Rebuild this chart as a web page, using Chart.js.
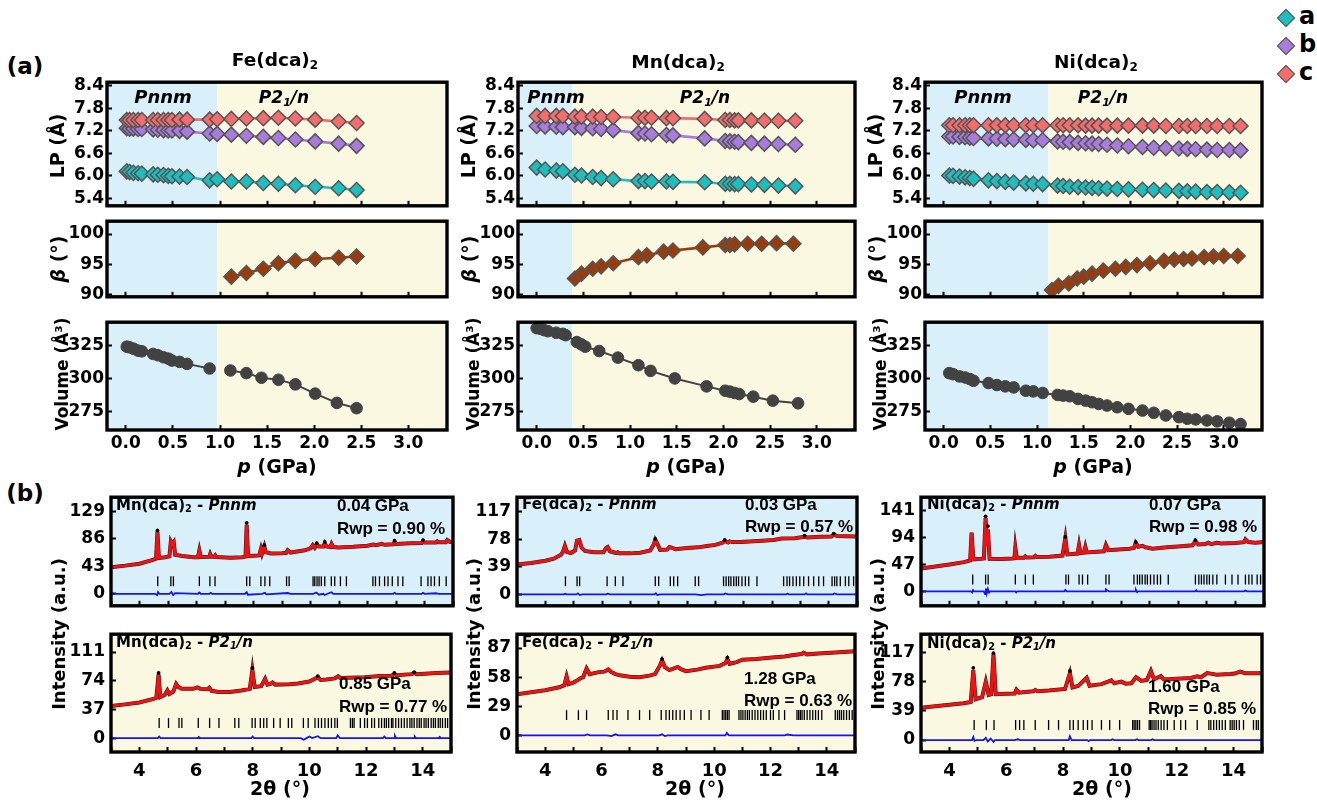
<!DOCTYPE html>
<html><head><meta charset="utf-8">
<script src="https://cdn.jsdelivr.net/npm/chart.js@4.4.1/dist/chart.umd.min.js"></script>
<style>
html,body{margin:0;padding:0;background:#fff;}
#root{position:relative;width:1317px;height:800px;overflow:hidden;font-family:"DejaVu Sans",sans-serif;font-weight:bold;color:#000;}
canvas{position:absolute;}
.t{position:absolute;white-space:nowrap;line-height:1;z-index:5;}
.c{transform:translate(-50%,-50%);}
.l{transform:translate(0,-50%);}
.v{transform:translate(-50%,-50%) rotate(-90deg);}
sub{font-size:0.65em;vertical-align:-0.3em;line-height:0;}
.lib{font-family:"Liberation Sans",Arial,sans-serif;}
.dia{position:absolute;width:11px;height:11px;border:1.5px solid #555;transform:translate(-50%,-50%) rotate(45deg);z-index:5;}
</style></head><body><div id="root"></div>
<script>
// ---------------- (a) lattice parameters ----------------
const pLPFe = [0.01,0.04,0.08,0.13,0.17,0.29,0.34,0.40,0.45,0.49,0.57,0.65,0.89,0.97,1.12,1.28,1.46,1.62,1.80,2.01,2.26,2.45];
const aFe = [6.12,6.10,6.08,6.07,6.06,6.04,6.03,6.02,6.00,5.99,5.98,5.97,5.88,5.91,5.85,5.85,5.81,5.79,5.75,5.71,5.67,5.62];
const bFe = [7.27,7.26,7.26,7.25,7.25,7.24,7.23,7.22,7.21,7.21,7.20,7.18,7.13,7.12,7.10,7.07,7.04,7.01,6.97,6.92,6.86,6.80];
const cFe = [7.49,7.49,7.49,7.49,7.49,7.49,7.49,7.49,7.49,7.49,7.50,7.50,7.50,7.51,7.52,7.53,7.54,7.55,7.53,7.50,7.45,7.41];

const pLPMn = [0.00,0.09,0.21,0.28,0.41,0.48,0.60,0.69,0.82,1.09,1.16,1.23,1.39,1.46,1.80,2.02,2.07,2.12,2.16,2.30,2.44,2.59,2.77];
const aMn = [6.22,6.17,6.14,6.12,6.03,6.01,5.97,5.94,5.91,5.86,5.86,5.85,5.85,5.84,5.83,5.79,5.79,5.78,5.78,5.77,5.76,5.74,5.72];
const bMn = [7.33,7.32,7.31,7.30,7.30,7.28,7.27,7.25,7.22,7.14,7.13,7.11,7.09,7.08,7.00,6.93,6.92,6.91,6.90,6.88,6.86,6.85,6.83];
const cMn = [7.60,7.60,7.60,7.60,7.58,7.58,7.58,7.57,7.57,7.55,7.55,7.55,7.54,7.54,7.52,7.49,7.49,7.48,7.48,7.48,7.47,7.47,7.47];

const pNi = [0.06,0.10,0.17,0.23,0.28,0.32,0.48,0.57,0.66,0.75,0.88,0.96,1.06,1.22,1.28,1.35,1.44,1.52,1.59,1.66,1.75,1.86,1.98,2.13,2.25,2.38,2.52,2.61,2.70,2.82,2.93,3.06,3.18];
const aNi = [6.01,6.00,5.98,5.96,5.94,5.92,5.88,5.86,5.84,5.82,5.80,5.79,5.78,5.74,5.73,5.71,5.70,5.69,5.68,5.67,5.66,5.65,5.64,5.63,5.62,5.61,5.60,5.59,5.58,5.57,5.57,5.56,5.55];
const bNi = [7.05,7.05,7.04,7.03,7.02,7.01,7.00,6.99,6.98,6.97,6.96,6.95,6.95,6.92,6.91,6.90,6.88,6.87,6.86,6.85,6.83,6.81,6.79,6.77,6.75,6.74,6.73,6.72,6.71,6.70,6.69,6.69,6.68];
const cNi = [7.35,7.35,7.35,7.35,7.35,7.35,7.35,7.35,7.35,7.35,7.35,7.35,7.35,7.35,7.35,7.35,7.35,7.34,7.34,7.34,7.34,7.34,7.34,7.34,7.34,7.33,7.33,7.33,7.33,7.33,7.33,7.33,7.33];

// beta angle (monoclinic phase)
const pBetaFe = [1.12,1.28,1.46,1.62,1.80,2.01,2.26,2.45];
const betaFe = [93.0,93.6,94.3,95.2,95.6,95.9,96.1,96.3];
const pBetaMn = [0.41,0.48,0.60,0.69,0.82,1.09,1.18,1.36,1.46,1.78,2.02,2.07,2.12,2.26,2.41,2.57,2.75];
const betaMn = [92.7,93.5,94.3,94.7,95.2,96.2,96.5,97.1,97.3,97.8,98.2,98.2,98.3,98.4,98.4,98.5,98.4];
const pBetaNi = [1.16,1.23,1.34,1.43,1.50,1.59,1.71,1.84,1.95,2.07,2.21,2.36,2.47,2.57,2.66,2.79,2.89,3.00,3.15];
const betaNi = [90.8,91.5,91.9,92.7,93.0,93.5,94.0,94.3,94.6,94.9,95.2,95.6,95.8,95.9,96.0,96.2,96.3,96.4,96.4];

// volume
const pVolFe = [0.01,0.04,0.08,0.13,0.17,0.29,0.34,0.40,0.45,0.49,0.57,0.65,0.89,1.11,1.28,1.44,1.62,1.80,2.01,2.24,2.45];
const volFe = [324.0,323.5,322.5,321.0,320.5,318.5,317.5,316.0,315.0,313.5,312.5,311.0,307.5,306.0,304.0,300.5,299.0,295.5,288.5,281.5,277.5];
const pVolMn = [0.00,0.04,0.08,0.12,0.21,0.28,0.31,0.43,0.48,0.52,0.67,0.87,1.09,1.22,1.48,1.82,2.02,2.07,2.12,2.17,2.32,2.53,2.80];
const volMn = [338.0,337.5,336.5,335.7,334.5,333.7,332.7,327.5,325.7,324.0,320.7,315.7,310.0,305.7,300.0,294.0,290.7,290.0,289.0,288.2,286.2,283.2,281.2];
const volNi = [304.0,303.2,301.5,300.7,299.5,298.2,296.5,295.0,294.0,293.2,290.7,290.2,289.0,287.5,287.0,286.5,284.5,283.2,282.0,280.7,279.5,278.2,277.0,275.7,274.0,272.0,270.7,269.5,269.0,268.2,267.5,266.5,265.5];

// Pnnm -> P21/n transition pressures (GPa)
const transitionFe = 0.97, transitionMn = 0.38, transitionNi = 1.12;

// tick labels
const pTicks = [0.0,0.5,1.0,1.5,2.0,2.5,3.0];
const lpTicks = [5.4,6.0,6.6,7.2,7.8,8.4];
const betaTicks = [90,95,100];
const volTicks = [275,300,325];
const thetaTicks = [3,4,5,6,7,8,9,10,11,12,13,14,15];
const ticksMnPnnm = [0,43,86,129], ticksFePnnm = [0,39,78,117], ticksNiPnnm = [0,47,94,141];
const ticksMnP21 = [0,37,74,111], ticksFeP21 = [0,29,58,87], ticksNiP21 = [0,39,78,117];

// ---------------- (b) XRD refinements ----------------
const thMnPnnm = [3.0,3.5,4.0,4.5,4.58,4.63,4.68,4.9,5.05,5.1,5.15,5.2,5.25,5.5,5.9,6.05,6.1,6.15,6.45,6.48,6.52,6.63,6.66,6.7,7.2,7.6,7.72,7.76,7.81,8.2,8.26,8.3,8.38,8.43,8.6,9.0,9.15,9.2,9.26,9.3,9.8,10.0,10.08,10.15,10.22,10.3,10.45,10.5,10.56,10.7,10.74,10.8,11.0,11.5,12.0,12.2,12.3,12.5,12.6,12.9,12.95,13.0,13.5,13.9,13.95,14.0,14.4,14.45,14.5,14.75,14.8,14.9,15.0];
const calcMnPnnm = [41.5,44,47,53.5,55,97,56,57,58.5,82,78,81,61,59,57,57,68,57.5,58,62,58,58,60,57.5,56.5,57,58,108,59,60,70,63,74,65,63,63.5,64,68,66,64.5,68,71,76,72,77,74,74,79,74,73,78,73,72.5,73.5,75,77,76,78,76.5,77.5,81,78,79,79.5,82,80,80,82,80.5,80.5,84,81,81];
const topThMnPnnm = [4.63,7.76,8.38,10.22,10.5,12.95,13.95], topMnPnnm = [99,111,76,79,81,83,84];
const diffThMnPnnm = [3,4.55,4.62,4.65,4.7,5.05,5.12,5.18,5.25,6.05,6.1,6.15,6.45,6.5,6.55,7.7,7.76,7.8,8.3,8.4,8.45,9.2,9.3,10.1,10.2,10.3,10.45,10.5,10.6,10.73,10.8,12.9,12.95,13.0,13.9,13.95,14.0,14.4,14.5,15];
const diffMnPnnm = [0,0,-2,2.5,0,0,3,-2,1,0,2,0,0,1.5,0,0,2.5,-1.5,0,1.5,-1,1.2,0,0,2,-1.5,0,-2,0,2.5,0,0,1.5,0,0,1.5,0,0.8,0,0];
const braggMnPnnm = [4.64,5.10,5.19,6.10,6.47,6.65,7.76,7.87,8.26,8.40,8.57,9.16,9.25,10.09,10.15,10.23,10.30,10.38,10.50,10.73,10.85,11.05,11.26,12.19,12.28,12.42,12.60,12.72,12.87,13.07,13.24,13.88,14.12,14.23,14.35,14.52,14.76];

const thFePnnm = [3.0,3.5,4.0,4.3,4.55,4.62,4.69,4.76,4.9,5.05,5.12,5.2,5.28,5.4,5.7,6.05,6.15,6.2,6.28,6.5,6.55,6.6,7.0,7.35,7.7,7.82,7.88,7.95,8.05,8.3,8.38,8.45,8.6,9.0,9.4,9.7,10.0,10.25,10.33,10.45,10.5,10.6,10.9,11.5,12.06,12.35,12.8,13.15,13.25,13.7,14.1,14.18,14.3,15.0];
const calcFePnnm = [42.3,44.5,47.5,50.5,56,60,68.5,60,58.5,62,76,77,66,61.5,59.5,59.5,66,67,61,58.5,59.5,58,58,59,62,70,77,72,63,63.5,67,66,64,65.5,66.5,68.5,70,73,75.5,73.5,75,74,74,75.5,77,79,79.5,81.5,80.5,81.5,82,84.5,82.5,82];
const topThFePnnm = [7.88,10.33,13.15,14.18], topFePnnm = [78.5,77,83,86];
const diffThFePnnm = [3,4.65,4.7,4.75,5.1,5.15,5.22,5.3,6.15,6.2,6.3,7.85,7.9,7.95,8.05,9.3,9.5,9.7,10.3,10.35,10.45,12.5,12.55,12.6,13.15,13.2,13.25,14.15,14.2,14.3,15];
const diffFePnnm = [0,0,1,0,0,1.5,-1,0,0,1,0,0,1.5,-1,0,0,-1,0,0,1.2,0,0,0.8,0,0,1.5,0,0,1.2,0,0];
const braggFePnnm = [4.71,5.12,5.21,6.18,6.47,6.74,7.88,8.00,8.41,8.53,8.67,9.29,9.41,10.29,10.38,10.47,10.55,10.65,10.74,10.82,10.94,11.06,11.18,11.47,12.41,12.53,12.62,12.74,12.86,12.98,13.12,13.29,13.47,13.65,13.82,14.12,14.21,14.29,14.41,14.59,14.71,14.88];

const thNiPnnm = [3.0,3.5,4.0,4.5,4.72,4.77,4.83,5.1,5.2,5.26,5.3,5.34,5.4,5.8,6.2,6.27,6.3,6.35,6.6,6.65,6.7,6.95,7.0,7.05,7.5,7.95,8.05,8.12,8.48,8.53,8.58,8.7,8.75,8.8,9.4,9.47,9.55,10.3,10.45,10.51,10.6,10.75,10.85,11.1,11.6,12.0,12.5,12.6,12.7,12.95,13.05,13.15,13.35,13.5,14.0,14.3,14.35,14.45,14.7,15.0];
const calcNiPnnm = [40,43.5,47,51,54,102.5,56,57,57.5,128,80,108,57,56.5,57.5,58,77,58.5,58.5,61,59,59.5,62,60,60.5,62.5,93,64.5,66,81,67,67.5,78,68,70,81,72,74.5,76,84.5,78,79.5,77,74.5,77,78.5,80.5,88,82,82.5,85,82.5,85,83.5,84.5,86,91,86,85,86];
const topThNiPnnm = [5.26,5.34,8.05,10.51,12.6], topNiPnnm = [131,114,95,86,89.5];
const diffThNiPnnm = [3,4.75,4.79,4.82,4.86,5.2,5.24,5.27,5.3,5.34,5.38,5.42,6.3,6.33,6.36,8.02,8.05,8.1,9.44,9.47,9.52,9.58,10.5,10.52,10.56,10.6,12.6,12.63,12.66,14.3,14.35,14.4,15];
const diffNiPnnm = [0,0,-2,2,0,0,-5,5,-4,4,-2,0,0,-2,0,0,2.5,0,0,3.5,1.5,0,0,2.5,-1.5,0,0,2,0,0,1.5,0,0];
const braggNiPnnm = [4.81,5.26,5.35,6.30,6.65,6.93,8.07,8.16,8.53,8.65,8.83,9.47,9.58,10.45,10.57,10.65,10.74,10.84,10.92,11.03,11.15,11.27,11.38,11.65,12.60,12.72,12.81,12.90,13.00,13.09,13.21,13.35,13.65,13.88,14.09,14.35,14.47,14.58,14.76,14.88];

const thMnP21 = [3.0,3.5,4.0,4.5,4.6,4.68,4.74,4.9,4.99,5.06,5.2,5.3,5.38,5.5,5.9,6.05,6.15,6.4,6.47,6.55,6.8,7.2,7.6,7.9,7.99,8.07,8.3,8.44,8.52,8.63,8.7,8.8,9.3,9.6,10.0,10.3,10.4,10.6,10.9,11.02,11.1,11.95,12.5,12.9,13.0,13.1,13.6,13.7,13.8,14.5,15.0];
const calcMnP21 = [41.3,43.5,46,50.5,52,82,53,56,61.6,57,60,70,66,63.5,63.5,65.5,63.5,63,65,61,59.5,59.5,61.5,63.5,88,66,67,76.5,69,70,71.7,69,69.5,70.5,72.9,78.6,75,75.7,77,79.8,77.5,78.6,80,80.5,82.6,81,82.5,83.8,82.5,84,84.6];
const topThMnP21 = [4.68,7.99,10.3,13.0,13.7], topMnP21 = [84,90.5,80,84,85];
const diffThMnP21 = [3,4.65,4.7,4.75,6.05,6.1,6.15,7.95,8.0,8.05,9.7,9.8,9.9,10.0,10.1,10.3,10.4,10.95,11.0,11.08,12.6,12.65,12.7,13.0,13.02,13.06,13.7,13.72,13.76,14.55,14.6,14.65,15];
const diffMnP21 = [0,0,2,0,0,1.5,0,0,2,0,0,-2,0,2,0,2.5,0,0,3.5,0,0,2,0,0,3,0,0,2,0,0,1.5,0,0];
const braggMnP21 = [4.70,5.03,5.40,5.50,6.08,6.48,6.81,7.37,7.51,7.98,8.09,8.27,8.39,8.50,8.74,8.97,9.26,9.38,9.79,9.96,10.20,10.32,10.43,10.55,10.67,10.78,10.90,10.99,11.45,11.52,11.58,11.80,11.95,12.05,12.20,12.30,12.45,12.55,12.65,12.72,12.80,12.90,12.95,13.05,13.15,13.25,13.35,13.45,13.55,13.62,13.70,13.80,13.88,13.95,14.05,14.12,14.20,14.30,14.38,14.45,14.55,14.62,14.70,14.80,14.88];

const thFeP21 = [3.0,3.5,4.0,4.5,4.68,4.76,4.83,5.0,5.15,5.24,5.35,5.47,5.58,5.9,6.1,6.24,6.35,6.5,6.65,7.0,7.35,7.7,7.9,8.08,8.15,8.25,8.41,8.6,8.71,8.82,9.0,9.4,9.7,10.2,10.4,10.47,10.55,10.8,11.0,11.5,12.06,12.5,12.76,13.1,13.18,13.3,13.7,14.3,15.0];
const calcFeP21 = [41,43,45,47.9,50,58.8,51,52.6,55,56.6,58,66.6,61,63,63.5,65.7,63,61,59.8,58.5,57.9,59.5,61,70,74.5,68,65,67,68.2,66,64,65.5,67.3,69.2,72,76,71.3,73,75.4,76.2,77.6,78.5,79.8,81,82.3,80.7,81.5,82.5,83.9];
const topThFeP21 = [8.15,10.47], topFeP21 = [76,77.5];
const diffThFeP21 = [3,5.4,5.5,5.6,6.2,6.35,6.5,6.6,8.05,8.15,8.25,8.35,10.4,10.45,10.52,12.5,12.6,12.8,15];
const diffFeP21 = [0,0,1,0,0,-0.8,1,0,0,1,-0.8,0,0,2.5,0,0,0.8,0,0];
const braggFeP21 = [4.76,5.18,5.47,6.24,6.41,6.55,6.94,7.35,7.71,8.12,8.29,8.41,8.53,8.65,8.79,8.94,9.18,9.53,9.82,10.29,10.35,10.41,10.47,10.53,10.88,10.95,11.02,11.10,11.18,11.25,11.35,11.45,11.55,11.65,11.75,11.85,12.00,12.10,12.30,12.50,12.94,13.00,13.06,13.12,13.20,13.30,13.40,13.50,13.60,13.70,13.82,14.30,14.38,14.45,14.52,14.60,14.70,14.80,14.90];

const thNiP21 = [3.0,3.5,4.0,4.5,4.75,4.84,4.92,5.15,5.28,5.38,5.47,5.55,5.63,6.0,6.3,6.36,6.45,6.67,6.95,7.02,7.1,7.5,8.07,8.24,8.33,8.53,8.83,8.93,9.35,9.7,9.8,10.05,10.2,10.4,10.57,10.75,10.95,11.09,11.2,11.44,11.55,12.0,12.5,12.72,12.85,13.07,13.25,13.4,13.88,14.05,14.23,14.4,15.0];
const calcNiP21 = [43,45,47,49,50.5,93,54.3,57,77.7,60,61,114,61,61.5,62,66.9,63,64,65,66.5,65,66,68,89,70,72,82.8,72.3,74.4,79.4,75.5,77.7,75,75.5,83.6,78.6,80,92,80.7,84.9,80.7,81.5,82.5,84.9,83.5,89,88,87,87.8,88.5,91.1,89,89];
const topThNiP21 = [4.84,5.55,8.24], topNiP21 = [96,115.5,92];
const diffThNiP21 = [3,4.8,4.84,4.88,4.95,5.2,5.28,5.35,5.45,5.55,5.6,6.3,6.4,6.5,8.2,8.24,8.3,8.85,8.9,8.95,9.7,9.75,9.8,10.55,10.6,10.65,11.1,11.15,11.2,15];
const diffNiP21 = [0,0,4,-1,0,0,3,-2,2,-2.5,0,0,1,0,0,5,0,0,-1.5,0,0,1,0,0,1,0,0,1,0,0];
const braggNiP21 = [4.87,5.30,5.57,6.33,6.47,6.62,7.02,7.49,7.84,8.24,8.36,8.53,8.71,8.86,9.02,9.35,9.64,9.99,10.45,10.50,10.56,10.62,10.69,11.03,11.08,11.13,11.20,11.27,11.35,11.45,11.55,11.67,11.91,12.14,12.31,12.72,13.13,13.20,13.30,13.40,13.50,13.60,13.71,13.88,13.95,14.02,14.10,14.20,14.35,14.70,14.80,14.87];

// ---------------- drawing ----------------
const root = document.getElementById('root');
const BLUE_BG = '#D9F0FB', YELLOW_BG = '#FAF8E1';
const TEAL = '#1CBFBD', PURPLE = '#A97BDC', SALMON = '#F46C6C', BROWN = '#9A3B0B', GREY = '#424242';
const TICKFONT = {family:'"DejaVu Sans", sans-serif', weight:'bold', size:17};

Chart.register({
  id:'panel',
  beforeDraw(chart, args, opts){
    const {ctx, chartArea:a, scales:{x}} = chart;
    ctx.save();
    (opts.bands||[]).forEach(b=>{
      const x1 = b.from==null ? a.left : Math.max(a.left, x.getPixelForValue(b.from));
      const x2 = b.to==null ? a.right : Math.min(a.right, x.getPixelForValue(b.to));
      ctx.fillStyle = b.color; ctx.fillRect(x1, a.top, x2-x1, a.bottom-a.top);
    });
    ctx.restore();
  },
  afterDraw(chart){
    const {ctx, chartArea:a} = chart;
    ctx.save(); ctx.lineWidth = 3.4; ctx.strokeStyle = '#000';
    ctx.strokeRect(a.left, a.top, a.right-a.left, a.bottom-a.top); ctx.restore();
  }
});

function xy(xs, ys){ return xs.map((x,i)=>({x:x, y:ys[i]})); }

function makeChart(o){
  const PL=2, PT=14, PR=12, PB = o.xh>0 ? 2 : 14;
  const x0 = o.L - o.yw - PL, y0 = o.T - PT;
  const w = o.R + PR - x0, h = o.B + o.xh + PB - y0;
  const cv = document.createElement('canvas');
  cv.width = w; cv.height = h;
  Object.assign(cv.style, {left:x0+'px', top:y0+'px', width:w+'px', height:h+'px'});
  root.appendChild(cv);
  return new Chart(cv, {
    type:'scatter',
    data:{datasets:o.datasets},
    options:{
      responsive:false, animation:false, devicePixelRatio:1, events:[],
      layout:{padding:{left:PL, top:PT, right:PR, bottom:PB}},
      plugins:{legend:{display:false}, tooltip:{enabled:false}, panel:{bands:o.bands}},
      elements:{line:{tension:0}},
      scales:{
        x:{type:'linear', min:o.xmin, max:o.xmax,
           afterBuildTicks:s=>{ s.ticks = o.xticks.map(v=>({value:v})); },
           afterFit:s=>{ s.height = o.xh; },
           grid:{display:true, drawOnChartArea:false, drawTicks:true, tickLength:-5, tickWidth:2, tickColor:'#000'},
           border:{display:false},
           ticks:{display:o.xh>0, autoSkip:false, maxRotation:0, minRotation:0, padding:(o.xpad||4)+5,
                  color:'#000', font:o.xfont||TICKFONT, callback:o.xfmt}},
        y:{type:'linear', min:o.ymin, max:o.ymax,
           afterBuildTicks:s=>{ s.ticks = o.yticks.map(v=>({value:v})); },
           afterFit:s=>{ s.width = o.yw; },
           grid:{display:true, drawOnChartArea:false, drawTicks:true, tickLength:-5, tickWidth:2, tickColor:'#000'},
           border:{display:false},
           ticks:{autoSkip:false, padding:(o.ypad||4)+5, color:'#000', font:o.yfont||TICKFONT, callback:o.yfmt}}
      }
    }
  });
}

function txt(html, x, y, cls, size, extra){
  const d = document.createElement('div');
  d.className = 't ' + cls; d.innerHTML = html;
  d.style.left = x+'px'; d.style.top = y+'px'; d.style.fontSize = size+'px';
  if (extra) Object.assign(d.style, extra);
  root.appendChild(d);
}

// ---- panel (a) ----
const colsA = [
  {L:107, R:447, tr:transitionFe, pLP:pLPFe, a:aFe, b:bFe, c:cFe, pB:pBetaFe, beta:betaFe, pV:pVolFe, V:volFe, splitV:true},
  {L:518, R:855, tr:transitionMn, pLP:pLPMn, a:aMn, b:bMn, c:cMn, pB:pBetaMn, beta:betaMn, pV:pVolMn, V:volMn, splitV:false},
  {L:925, R:1262, tr:transitionNi, pLP:pNi, a:aNi, b:bNi, c:cNi, pB:pBetaNi, beta:betaNi, pV:pNi, V:volNi, splitV:false}
];
const fmt1 = v => Number(v).toFixed(1);
const fmt0 = v => String(v);
function diamondSet(data, fill, order){
  return {data, order, showLine:true, borderColor:fill, borderWidth:2.6, backgroundColor:fill,
          pointStyle:'rectRot', pointRadius:7.5, pointBorderColor:'#555', pointBorderWidth:1.5};
}
colsA.forEach(col=>{
  const bands = [{from:null, to:col.tr, color:BLUE_BG},{from:col.tr, to:null, color:YELLOW_BG}];
  const common = {L:col.L, R:col.R, yw:52, xmin:-0.2, xmax:3.41, xticks:pTicks, xfmt:fmt1, bands};
  makeChart(Object.assign({}, common, {T:78, B:210, xh:0, ymin:5.2, ymax:8.5, yticks:lpTicks, yfmt:fmt1, ypad:3,
    datasets:[diamondSet(xy(col.pLP,col.a),TEAL,3), diamondSet(xy(col.pLP,col.b),PURPLE,2), diamondSet(xy(col.pLP,col.c),SALMON,1)]}));
  makeChart(Object.assign({}, common, {T:217, B:301, xh:0, ymin:89.7, ymax:102.1, yticks:betaTicks, yfmt:fmt0, ypad:3,
    datasets:[diamondSet(xy(col.pB,col.beta),BROWN,1)]}));
  const vAll = xy(col.pV, col.V);
  const vSets = col.splitV
    ? [vAll.filter(d=>d.x<col.tr), vAll.filter(d=>d.x>col.tr)]
    : [vAll];
  makeChart(Object.assign({}, common, {T:318, B:430, xh:30, xpad:3, ymin:261, ymax:342.5, yticks:volTicks, yfmt:fmt0, ypad:3,
    datasets:vSets.map(d=>({data:d, showLine:true, borderColor:GREY, borderWidth:2, backgroundColor:GREY,
      pointStyle:'circle', pointRadius:5.8, pointBorderColor:GREY, pointBorderWidth:1}))}));
});

// ---- panel (b) ----
const colsB = [
  {L:111, R:453}, {L:517, R:857}, {L:921, R:1264}
];
const xrd = [
  {col:0, row:0, th:thMnPnnm, calc:calcMnPnnm, tth:topThMnPnnm, top:topMnPnnm, dth:diffThMnPnnm, diff:diffMnPnnm, bragg:braggMnPnnm, bY:19.5, ymin:-18.8, ymax:151, yt:ticksMnPnnm, bg:BLUE_BG},
  {col:1, row:0, th:thFePnnm, calc:calcFePnnm, tth:topThFePnnm, top:topFePnnm, dth:diffThFePnnm, diff:diffFePnnm, bragg:braggFePnnm, bY:18.5, ymin:-16.2, ymax:137.5, yt:ticksFePnnm, bg:BLUE_BG},
  {col:2, row:0, th:thNiPnnm, calc:calcNiPnnm, tth:topThNiPnnm, top:topNiPnnm, dth:diffThNiPnnm, diff:diffNiPnnm, bragg:braggNiPnnm, bY:20.5, ymin:-25.3, ymax:164.5, yt:ticksNiPnnm, bg:BLUE_BG},
  {col:0, row:1, th:thMnP21, calc:calcMnP21, tth:topThMnP21, top:topMnP21, dth:diffThMnP21, diff:diffMnP21, bragg:braggMnP21, bY:19.5, ymin:-17.9, ymax:134, yt:ticksMnP21, bg:YELLOW_BG},
  {col:1, row:1, th:thFeP21, calc:calcFeP21, tth:topThFeP21, top:topFeP21, dth:diffThFeP21, diff:diffFeP21, bragg:braggFeP21, bY:20.2, ymin:-16.6, ymax:100.8, yt:ticksFeP21, bg:YELLOW_BG},
  {col:2, row:1, th:thNiP21, calc:calcNiP21, tth:topThNiP21, top:topNiP21, dth:diffThNiP21, diff:diffNiP21, bragg:braggNiP21, bY:20, ymin:-15.9, ymax:140.8, yt:ticksNiP21, bg:YELLOW_BG}
];
const rowsB = [{T:490, B:613}, {T:627, B:752}];
xrd.forEach(p=>{
  const c = colsB[p.col], r = rowsB[p.row];
  makeChart({L:c.L, R:c.R, T:r.T, B:r.B, yw:50, xh:p.row===1?34:0, xpad:9, ypad:6,
    xmin:3, xmax:15, xticks:thetaTicks, xfmt:v=>(v%2===0?String(v):''),
    xfont:{family:'"DejaVu Sans", sans-serif', weight:'bold', size:18},
    ymin:p.ymin, ymax:p.ymax, yticks:p.yt, yfmt:fmt0,
    bands:[{from:null, to:null, color:p.bg}],
    datasets:[
      {order:5, data:p.bragg.map(t=>({x:t, y:p.bY})), showLine:false, pointStyle:'line', pointRotation:90, pointRadius:5,
       pointBorderColor:'#000', pointBorderWidth:1.3, backgroundColor:'#000'},
      {order:4, data:xy(p.dth,p.diff), showLine:true, borderColor:'#1414F0', borderWidth:1.8, pointRadius:0},
      {order:3, data:xy(p.th,p.calc), showLine:true, borderColor:'#222', borderWidth:4.0, pointRadius:0},
      {order:2, data:xy(p.th,p.calc), showLine:true, borderColor:'#F41010', borderWidth:3.0, pointRadius:0},
      {order:1, data:xy(p.tth,p.top), showLine:false, pointStyle:'circle', pointRadius:1.9, backgroundColor:'#000', pointBorderColor:'#000', pointBorderWidth:0}
    ]});
});

// ---- texts ----
txt('(a)', 25, 66, 'c', 23);
txt('(b)', 25, 493, 'c', 23);
txt('Fe(dca)<sub>2</sub>', 275, 60, 'c', 18.5);
txt('Mn(dca)<sub>2</sub>', 678, 62, 'c', 18.5);
txt('Ni(dca)<sub>2</sub>', 1096, 62, 'c', 18.5);
// legend
[['a',TEAL,18],['b',PURPLE,46],['c',SALMON,74]].forEach(([s,col,y])=>{
  const d = document.createElement('div'); d.className='dia';
  d.style.left='1286px'; d.style.top=y+'px'; d.style.background=col; root.appendChild(d);
  txt(s, 1299, y-2, 'l', 24);
});
// phase labels
const phasePos = [[163,284],[556,705],[983,1103]];
phasePos.forEach(([x1,x2])=>{
  txt('<i>Pnnm</i>', x1, 97, 'c', 18);
  txt('<i>P</i><i>2<sub>1</sub>/n</i>', x2, 97, 'c', 17);
});
// axis titles (a)
[57, 468, 875].forEach(x=>{
  txt('LP (Å)', x, 146, 'v', 19);
  txt('<i>β</i> (°)', x+1, 259, 'v', 19);
  txt('Volume (Å³)', x+5, 374, 'v', 17);
});
[277, 686, 1093].forEach(x=> txt('<i>p</i> (GPa)', x, 466, 'c', 19));
// axis titles (b)
[59, 474, 878].forEach(x=> txt('Intensity (a.u.)', x, 634, 'v', 18));
[280, 695, 1102].forEach(x=> txt('2θ (°)', x, 788, 'c', 19));
// in-panel XRD labels
const xrdText = [
  ['Mn(dca)<sub>2</sub> - <i>Pnnm</i>', 116, 505, '0.04 GPa', 337, 505, 'Rwp = 0.90 %', 337, 528],
  ['Fe(dca)<sub>2</sub> - <i>Pnnm</i>', 522, 504, '0.03 GPa', 745, 504, 'Rwp = 0.57 %', 745, 526],
  ['Ni(dca)<sub>2</sub> - <i>Pnnm</i>', 927, 504, '0.07 GPa', 1149, 504, 'Rwp = 0.98 %', 1149, 526],
  ['Mn(dca)<sub>2</sub> - <i>P2<sub>1</sub>/n</i>', 116, 642, '0.85 GPa', 339, 683, 'Rwp = 0.77 %', 339, 706],
  ['Fe(dca)<sub>2</sub> - <i>P2<sub>1</sub>/n</i>', 522, 642, '1.28 GPa', 744, 678, 'Rwp = 0.63 %', 744, 700],
  ['Ni(dca)<sub>2</sub> - <i>P2<sub>1</sub>/n</i>', 927, 643, '1.60 GPa', 1148, 686, 'Rwp = 0.85 %', 1148, 708]
];
xrdText.forEach(r=>{
  txt(r[0], r[1], r[2], 'l', 15);
  txt(r[3], r[4], r[5], 'l lib', 17);
  txt(r[6], r[7], r[8], 'l lib', 17);
});
</script></body></html>
